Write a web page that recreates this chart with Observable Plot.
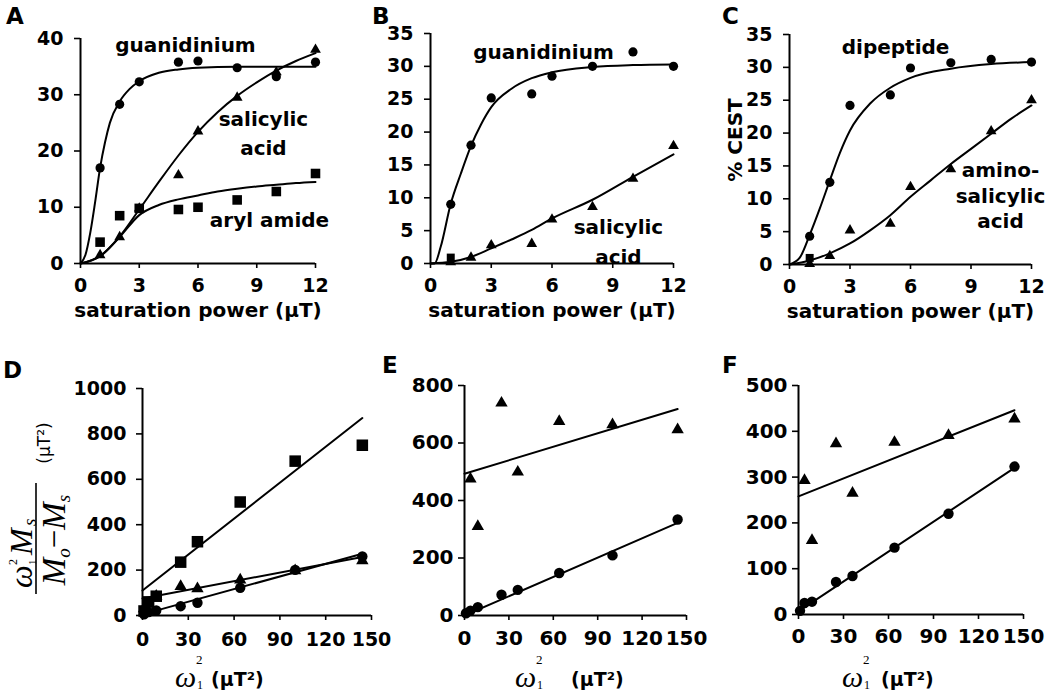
<!DOCTYPE html>
<html><head><meta charset="utf-8">
<script src="https://cdn.jsdelivr.net/npm/d3@7"></script>
<script src="https://cdn.jsdelivr.net/npm/@observablehq/plot@0.6"></script>
<style>
html,body{margin:0;padding:0;background:#fff;overflow:hidden;}
#root{position:relative;width:1050px;height:695px;background:#fff;overflow:hidden;}
#root svg{position:absolute;max-width:none;}
</style></head><body><div id="root"></div>
<script>
// ---------- DATA ----------
// Top row: saturation power (µT)
const powerUT = [1, 2, 3, 5, 6, 8, 10, 12];
const topXTicks = [0, 3, 6, 9, 12];

// Panel A
const aGuanidinium = [17, 28.3, 32.3, 35.8, 36, 34.8, 33.2, 35.8];
const aSalicylic   = [1.5, 4.7, 9.8, 15.7, 23.5, 29.5, 34, 38];
const aArylAmide   = [3.8, 8.5, 9.8, 9.6, 10, 11.3, 12.8, 16];
const aGuanFitX = [0, 0.25, 0.5, 0.75, 1, 1.25, 1.5, 2, 2.5, 3, 4, 5, 6, 8, 10, 12];
const aGuanFitY = [0, 1.5, 5.5, 11, 17, 21.5, 25, 28.8, 31, 32.4, 33.9, 34.5, 34.8, 35, 35, 35];
const aSalFitX  = [0, 1, 2, 3, 4, 5, 6, 7, 8, 9, 10, 11, 12];
const aSalFitY  = [0, 1.3, 4.8, 9.6, 14.5, 19.2, 23.4, 26.9, 29.8, 32.2, 34.3, 36, 37.4];
const aArylFitX = [0, 1, 2, 3, 4, 5, 6, 7, 8, 9, 10, 11, 12];
const aArylFitY = [0, 1.3, 4.7, 8.6, 10.4, 11.4, 12.1, 12.8, 13.3, 13.7, 14, 14.3, 14.5];
const aYTicks = [0, 10, 20, 30, 40];
const aNoteText = ["guanidinium", "salicylic\nacid", "aryl amide"];
const aNoteX = [5.36, 9.34, 9.65];
const aNoteY = [39.2, 23.5, 8.07];

// Panel B
const bGuanidinium = [9, 18, 25.2, 25.8, 28.5, 30, 32.2, 30];
const bSalicylic   = [0.2, 0.9, 2.8, 3.0, 6.7, 8.6, 12.9, 17.9];
const bSquareX = [1];
const bSquareY = [0.9];
const bGuanFitX = [0, 0.2, 0.5, 1, 1.5, 2, 2.5, 3, 4, 5, 6, 8, 10, 12];
const bGuanFitY = [0, 0, 2.5, 9.1, 13.7, 17.9, 21.2, 23.8, 26.6, 28.2, 29.1, 29.9, 30.2, 30.3];
const bSalFitX  = [0, 1, 2, 3, 4, 5, 6, 8, 10, 12];
const bSalFitY  = [0, 0.25, 1, 2.3, 3.65, 5.1, 6.85, 9.7, 13.2, 16.6];
const bcYTicks = [0, 5, 10, 15, 20, 25, 30, 35];
const bNoteText = ["guanidinium", "salicylic\nacid"];
const bNoteX = [5.58, 9.28];
const bNoteY = [32.6, 3.7];

// Panel C
const cDipeptide = [4.3, 12.5, 24.2, 25.8, 29.9, 30.7, 31.2, 30.8];
const cAminoSal  = [0.1, 1.3, 5.2, 6.2, 11.8, 14.5, 20.3, 25];
const cSquareX = [1];
const cSquareY = [1.0];
const cDipFitX = [0, 0.5, 1, 1.5, 2, 2.5, 3, 4, 5, 6, 8, 10, 12];
const cDipFitY = [0, 1, 4.5, 8.5, 12.8, 17, 20.4, 24.5, 26.9, 28.4, 29.8, 30.5, 30.8];
const cAminoFitX = [0, 1, 2, 3, 4, 5, 6, 7, 8, 9, 10, 11, 12];
const cAminoFitY = [0, 0.6, 1.7, 3.2, 5.2, 7.5, 10.3, 12.8, 15.3, 17.6, 19.9, 22.2, 24.2];
const cNoteText = ["dipeptide", "amino-\nsalicylic\nacid"];
const cNoteX = [5.26, 10.46];
const cNoteY = [33.3, 10.7];

// Bottom row: omega1^2 (µT^2)
const omega2 = [1, 4, 9, 25, 36, 64, 100, 144];
const omega2Tri = [4, 9, 25, 36, 64, 100, 144];
const bottomXTicks = [0, 30, 60, 90, 120, 150];
const fitEndsX = [0, 144];

// Panel D
const dSquares   = [20, 60, 85, 235, 325, 500, 680, 750];
const dTriangles = [30, 50, 85, 128, 118, 157, 198, 242];
const dCircles   = [5, 15, 22, 41, 56, 122, 201, 260];
const dSquareFit   = [110, 870];
const dTriangleFit = [75, 258];
const dCircleFit   = [5, 272];
const dYTicks = [0, 200, 400, 600, 800, 1000];

// Panel E
const eTriangles = [475, 310, 739, 499, 675, 664, 646];
const eCircles   = [8, 17, 29, 72, 89, 148, 209, 334];
const eTriangleFit = [493, 718];
const eCircleFit   = [0, 322];
const eYTicks = [0, 200, 400, 600, 800];

// Panel F
const fTriangles = [293, 162, 373, 265, 376, 391, 427];
const fCircles   = [8, 25, 28, 71, 84, 146, 220, 323];
const fTriangleFit = [258, 446];
const fCircleFit   = [7, 320];
const fYTicks = [0, 100, 200, 300, 400, 500];

// ---------- DRAWING ----------
const root = document.getElementById("root");
const FONT = "'DejaVu Sans', sans-serif";
const pts = (xs, ys) => xs.map((x, i) => ({x, y: ys[i]}));

function panel(o) {
  const [L, R, T, B] = o.frame;
  const ML = 80, MR = 16, MT = 20, MB = 80;
  const marks = [
    Plot.ruleY([o.yDomain[0]], {stroke: "black", strokeWidth: 2}),
    Plot.ruleX([o.xDomain[0]], {stroke: "black", strokeWidth: 2}),
    Plot.axisX({ticks: o.xTicks, tickSize: 5, tickPadding: o.xPad, label: null, fontSize: o.tickFont, fontWeight: "bold", strokeWidth: 1.6}),
    Plot.axisY({ticks: o.yTicks, tickSize: 6, tickPadding: o.yPad, label: null, fontSize: o.tickFont, fontWeight: "bold", strokeWidth: 1.6, tickFormat: d => String(d)}),
    ...o.fits.map(f => Plot.line(pts(f[0], f[1]), {x: "x", y: "y", curve: f[2] || "linear", stroke: "black", strokeWidth: 2})),
    ...o.series.map(s => Plot.dot(pts(s.x, s.y), {x: "x", y: "y", symbol: s.symbol, r: s.r, fill: "black", stroke: "none"}))
  ];
  if (o.notes) {
    marks.push(Plot.text(o.notes.text, {x: (d, i) => o.notes.x[i], y: (d, i) => o.notes.y[i], text: d => d,
      fontSize: 20, fontWeight: "bold", fill: "black", lineHeight: o.notes.lh, textAnchor: "middle"}));
  }
  if (o.xLabel) {
    marks.push(Plot.text([o.xLabel], {frameAnchor: "bottom", lineAnchor: "middle", dy: 47, text: d => d, fontSize: 20, fontWeight: "bold", fill: "black"}));
  }
  const svg = Plot.plot({
    width: (R - L) + ML + MR, height: (B - T) + MT + MB,
    marginLeft: ML, marginRight: MR, marginTop: MT, marginBottom: MB,
    x: {domain: o.xDomain}, y: {domain: o.yDomain},
    style: {fontFamily: FONT, fontWeight: "bold", fontSize: "19px", background: "transparent", overflow: "visible", color: "black"},
    marks
  });
  svg.style.left = (L - ML) + "px";
  svg.style.top = (T - MT) + "px";
  root.appendChild(svg);
}

const satLabel = "saturation power (µT)";

panel({frame: [80, 315, 38, 263], xDomain: [0, 12], yDomain: [0, 40], xTicks: topXTicks, yTicks: aYTicks, xPad: 10, yPad: 11, tickFont: 19,
  fits: [[aGuanFitX, aGuanFitY, "monotone-x"], [aSalFitX, aSalFitY, "monotone-x"], [aArylFitX, aArylFitY, "monotone-x"]],
  series: [{x: powerUT, y: aGuanidinium, symbol: "circle", r: 4.6}, {x: powerUT, y: aSalicylic, symbol: "triangle", r: 4}, {x: powerUT, y: aArylAmide, symbol: "square", r: 5.4}],
  notes: {text: aNoteText, x: aNoteX, y: aNoteY, lh: 1.45}, xLabel: satLabel});

panel({frame: [430, 673, 33, 263], xDomain: [0, 12], yDomain: [0, 35], xTicks: topXTicks, yTicks: bcYTicks, xPad: 10, yPad: 11, tickFont: 19,
  fits: [[bGuanFitX, bGuanFitY, "monotone-x"], [bSalFitX, bSalFitY, "monotone-x"]],
  series: [{x: powerUT, y: bGuanidinium, symbol: "circle", r: 4.6}, {x: powerUT, y: bSalicylic, symbol: "triangle", r: 4}, {x: bSquareX, y: bSquareY, symbol: "square", r: 4.5}],
  notes: {text: bNoteText, x: bNoteX, y: bNoteY, lh: 1.5}, xLabel: satLabel});

panel({frame: [789, 1031, 34, 264], xDomain: [0, 12], yDomain: [0, 35], xTicks: topXTicks, yTicks: bcYTicks, xPad: 10, yPad: 11, tickFont: 19,
  fits: [[cDipFitX, cDipFitY, "monotone-x"], [cAminoFitX, cAminoFitY, "monotone-x"]],
  series: [{x: powerUT, y: cDipeptide, symbol: "circle", r: 4.6}, {x: powerUT, y: cAminoSal, symbol: "triangle", r: 4}, {x: cSquareX, y: cSquareY, symbol: "square", r: 4.5}],
  notes: {text: cNoteText, x: cNoteX, y: cNoteY, lh: 1.3}, xLabel: satLabel});

panel({frame: [142, 371, 388, 615], xDomain: [0, 150], yDomain: [0, 1000], xTicks: bottomXTicks, yTicks: dYTicks, xPad: 12, yPad: 10, tickFont: 19,
  fits: [[fitEndsX, dSquareFit], [fitEndsX, dTriangleFit], [fitEndsX, dCircleFit]],
  series: [{x: omega2, y: dSquares, symbol: "square", r: 6.5}, {x: omega2, y: dTriangles, symbol: "triangle", r: 4.6}, {x: omega2, y: dCircles, symbol: "circle", r: 5.2}]});

panel({frame: [464, 686, 385, 615], xDomain: [0, 150], yDomain: [0, 800], xTicks: bottomXTicks, yTicks: eYTicks, xPad: 10, yPad: 5, tickFont: 20,
  fits: [[fitEndsX, eTriangleFit], [fitEndsX, eCircleFit]],
  series: [{x: omega2Tri, y: eTriangles, symbol: "triangle", r: 4.6}, {x: omega2, y: eCircles, symbol: "circle", r: 5.2}]});

panel({frame: [798, 1023, 385, 614], xDomain: [0, 150], yDomain: [0, 500], xTicks: bottomXTicks, yTicks: fYTicks, xPad: 9, yPad: 5, tickFont: 20,
  fits: [[fitEndsX, fTriangleFit], [fitEndsX, fCircleFit]],
  series: [{x: omega2Tri, y: fTriangles, symbol: "triangle", r: 4.6}, {x: omega2, y: fCircles, symbol: "circle", r: 5.2}]});

// ---------- Overlay text (panel letters, axis titles) ----------
const ov = d3.select(root).append("svg").attr("width", 1050).attr("height", 695)
  .style("left", "0px").style("top", "0px").style("pointer-events", "none");
const SERIF = "'Liberation Serif', 'DejaVu Serif', serif";
function t(parent, x, y, s, opts = {}) {
  const e = parent.append("text").attr("x", x).attr("y", y).text(s)
    .attr("font-family", opts.family || FONT)
    .attr("font-size", opts.size || 20)
    .attr("font-weight", opts.weight || "bold")
    .attr("font-style", opts.style || "normal")
    .attr("text-anchor", opts.anchor || "start")
    .attr("fill", "black");
  return e;
}
const letters = [["A", 6, 24], ["B", 372, 24], ["C", 722, 24], ["D", 3, 378], ["E", 382, 373], ["F", 722, 373]];
letters.forEach(([s, x, y]) => t(ov, x, y, s, {size: 23}));

// % CEST
const cest = ov.append("g").attr("transform", "translate(742,140) rotate(-90)");
t(cest, 0, 0, "% CEST", {anchor: "middle", size: 20});

// bottom x-axis titles: ω1² (µT²)
[[175, 211], [515, 571], [842, 881]].forEach(([wx, ux]) => {
  t(ov, wx, 687, "ω", {family: SERIF, style: "italic", weight: "normal", size: 30});
  t(ov, wx + 21, 664, "2", {family: SERIF, weight: "normal", size: 13});
  t(ov, wx + 22, 689, "1", {family: SERIF, weight: "normal", size: 12});
  t(ov, ux, 686, "(µT²)", {size: 19});
});

// D y-axis title: ω1² Ms / (Mo − Ms) (µT²)
const yl = ov.append("g").attr("transform", "translate(36,540) rotate(-90)");
yl.append("line").attr("x1", -54).attr("x2", 57).attr("y1", 0).attr("y2", 0).attr("stroke", "black").attr("stroke-width", 1.6);
t(yl, -48, -4, "ω", {family: SERIF, style: "italic", weight: "normal", size: 32});
t(yl, -25, -19, "2", {family: SERIF, weight: "normal", size: 12});
t(yl, -25, 0, "1", {family: SERIF, weight: "normal", size: 11});
t(yl, -15, -4, "M", {family: SERIF, style: "italic", weight: "normal", size: 32});
t(yl, 14, 0, "s", {family: SERIF, style: "italic", weight: "normal", size: 19});
const den = t(yl, 0, 29, "", {family: SERIF, style: "italic", weight: "normal", size: 33, anchor: "middle"});
den.append("tspan").text("M");
den.append("tspan").attr("dy", 5).attr("font-size", 19).text("o");
den.append("tspan").attr("dy", -5).attr("font-style", "normal").text("−");
den.append("tspan").text("M");
den.append("tspan").attr("dy", 5).attr("font-size", 19).text("s");
t(yl, 97, 14, "(µT²)", {anchor: "middle", weight: "normal", size: 17});
</script>
</body></html>
